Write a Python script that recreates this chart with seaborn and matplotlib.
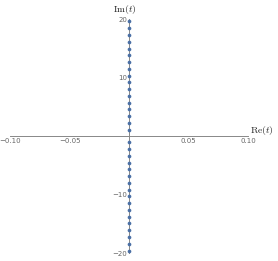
import numpy as np
import pandas as pd
import matplotlib
matplotlib.use("Agg")
import matplotlib.pyplot as plt
import seaborn as sns
from matplotlib.ticker import MultipleLocator, FixedLocator

# imaginary parts of the points (all on the imaginary axis)
im_pos = [19.6, 18.4, 17.2, 16.1, 14.9, 13.8, 12.6, 11.5, 10.3, 9.2,
          8.0, 6.9, 5.7, 4.6, 3.4, 2.3, 1.1]
im_vals = im_pos + [-v for v in im_pos]
re_vals = [0.0] * len(im_vals)
x_ticks = [-0.10, -0.05, 0.05, 0.10]
x_labels = ["\u22120.10", "\u22120.05", "0.05", "0.10"]
y_ticks = [-20, -10, 10, 20]
y_labels = ["\u221220", "\u221210", "10", "20"]

df = pd.DataFrame({"re": re_vals, "im": im_vals})

sns.set_style("white")
plt.rcParams["mathtext.fontset"] = "cm"

fig = plt.figure(figsize=(2.78, 2.61), dpi=100)
ax = fig.add_axes([10 / 278, 8 / 261, 238 / 278, 234 / 261])

sns.scatterplot(data=df, x="re", y="im", ax=ax, color="#4a6fa5",
                s=7, linewidth=0, zorder=3)

ax.set_xlim(-0.1, 0.1)
ax.set_ylim(-20, 20)

for s in ["top", "right"]:
    ax.spines[s].set_visible(False)
ax.spines["left"].set_position("zero")
ax.spines["bottom"].set_position("zero")
for s in ["left", "bottom"]:
    ax.spines[s].set_color("#888888")
    ax.spines[s].set_linewidth(0.7)

ax.xaxis.set_major_locator(FixedLocator(x_ticks))
ax.set_xticklabels(x_labels)
ax.xaxis.set_minor_locator(MultipleLocator(0.01))
ax.yaxis.set_major_locator(FixedLocator(y_ticks))
ax.set_yticklabels(y_labels)
ax.yaxis.set_minor_locator(MultipleLocator(2))

ax.tick_params(axis="both", which="major", direction="in", length=3,
               width=0.6, color="#888888", labelsize=5, labelcolor="#666666",
               pad=1.5)
ax.tick_params(axis="both", which="minor", direction="in", length=1.5,
               width=0.5, color="#888888")

ax.set_xlabel("")
ax.set_ylabel("")
ax.text(-0.0035, 20.5, r"$\mathrm{Im}(t)$", ha="center", va="bottom",
        fontsize=7, color="#222222", clip_on=False)
ax.text(0.1015, 0.9, r"$\mathrm{Re}(t)$", ha="left", va="center",
        fontsize=7, color="#222222", clip_on=False)

fig.savefig("out.png", dpi=100)
